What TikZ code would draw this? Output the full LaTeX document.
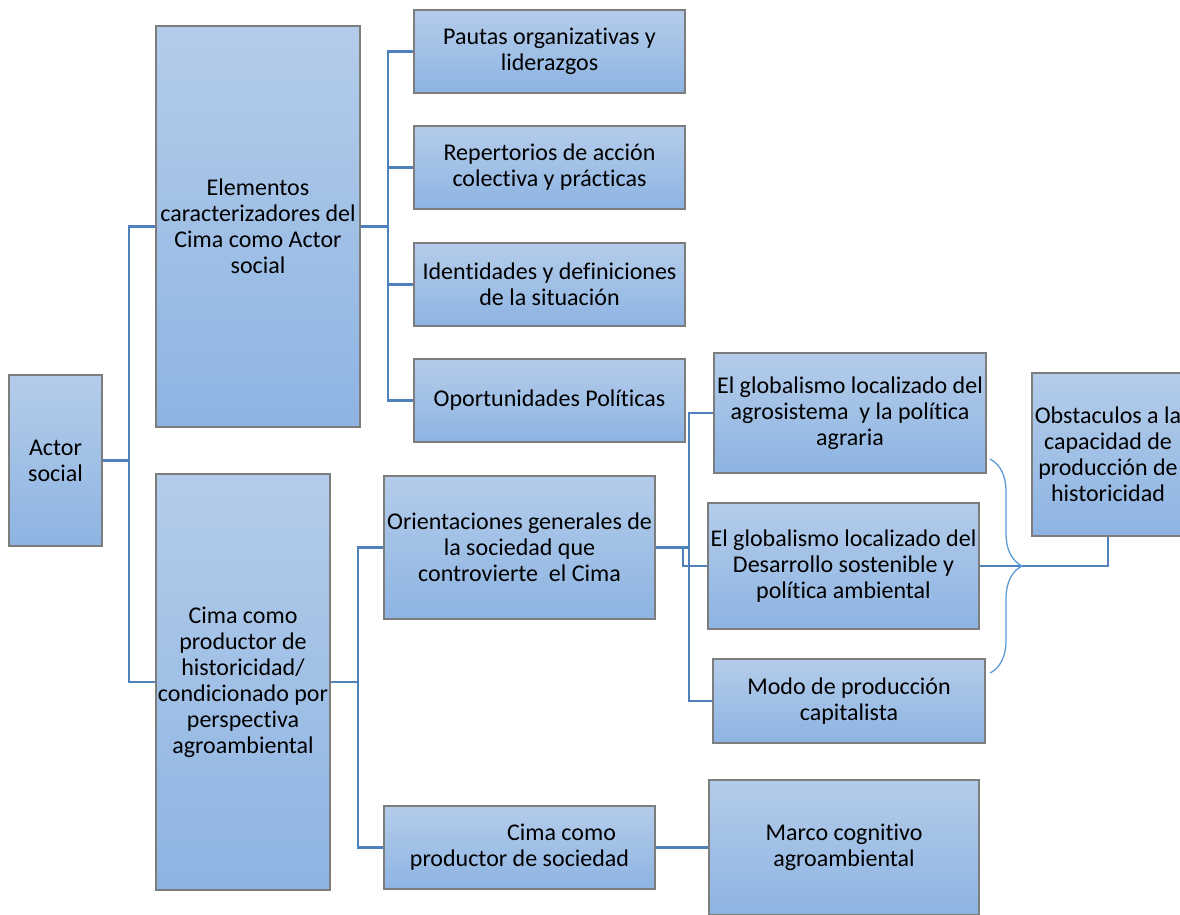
\documentclass[tikz,border=0pt]{standalone}
\usepackage{fontspec}
\setmainfont{Carlito}[Ligatures=NoCommon]
\usepackage{xcolor}
\usepackage{tikz}
\usetikzlibrary{decorations.pathreplacing}
\definecolor{boxtop}{RGB}{180,204,234}
\definecolor{boxbottom}{RGB}{141,180,226}
\definecolor{boxline}{RGB}{125,125,125}
\definecolor{linkblue}{RGB}{79,129,189}
\definecolor{braceblue}{RGB}{91,155,213}

\begin{document}
\begin{tikzpicture}[x=1pt,y=-1pt,
        box/.style={rectangle,draw=boxline,line width=1.5pt,top color=boxtop,bottom color=boxbottom,
            align=center,inner sep=1pt,font=\fontsize{24}{26}\selectfont},
        link/.style={draw=linkblue,line width=2.5pt}]
    \useasboundingbox (0,0) rectangle (1180,914);
    \clip (0,0) rectangle (1180,914);
    \node [box,minimum width=93pt,minimum height=171pt] (Actor) at (55.5,460.5) {Actor\\social};
    \node [box,minimum width=204pt,minimum height=401pt] (Elementos) at (258,226.5)
        {Elementos\\caracterizadores del\\Cima como Actor\\social};
    \node [box,minimum width=174pt,minimum height=416pt] (Productor) at (243,682)
        {Cima como\\productor de\\historicidad/\\condicionado por\\perspectiva\\agroambiental};
    \node [box,minimum width=271pt,minimum height=83pt] (Pautas) at (549.5,51.5) {Pautas organizativas y\\liderazgos};
    \node [box,minimum width=271pt,minimum height=83pt] (Repertorios) at (549.5,167.5) {Repertorios de acción\\colectiva y prácticas};
    \node [box,minimum width=271pt,minimum height=83pt] (Identidades) at (549.5,284.5) {Identidades y definiciones\\de la situación};
    \node [box,minimum width=271pt,minimum height=83pt] (Oportunidades) at (549.5,400.5) {Oportunidades Políticas};
    \node [box,minimum width=271pt,minimum height=143pt] (Orientaciones) at (519.5,547.5)
        {Orientaciones generales de\\la sociedad que\\controvierte\ \ el Cima};
    \node [box,minimum width=271pt,minimum height=83pt] (Sociedad) at (519.5,847.5)
        {\hspace*{84pt}Cima como\\productor de sociedad};
    \node [box,minimum width=272pt,minimum height=120pt] (Agrosistema) at (850,413)
        {El globalismo localizado del\\agrosistema\ \ y la política\\agraria};
    \node [box,minimum width=271pt,minimum height=126pt] (Desarrollo) at (843.5,566)
        {El globalismo localizado del\\Desarrollo sostenible y\\política ambiental};
    \node [box,minimum width=272pt,minimum height=84pt] (Modo) at (849,701) {Modo de producción\\capitalista};
    \node [box,minimum width=270pt,minimum height=135pt] (Marco) at (844,847.5) {Marco cognitivo\\agroambiental};
    \node [box,minimum width=152pt,minimum height=163pt] (Obstaculos) at (1108,454.5)
        {Obstaculos a la\\capacidad de\\producción de\\historicidad};
    \foreach \child in {Elementos,Productor}
        \draw [link] (Actor.east) -- ++(26,0) |- (\child.west);
    \foreach \child in {Pautas,Repertorios,Identidades,Oportunidades}
        \draw [link] (Elementos.east) -- ++(27,0) |- (\child.west);
    \foreach \child in {Orientaciones,Sociedad}
        \draw [link] (Productor.east) -- ++(27,0) |- (\child.west);
    \foreach \child in {Agrosistema,Modo}
        \draw [link] (Orientaciones.east) -- ++(33,0) |- (\child.west);
    \draw [link] (Orientaciones.east) -- ++(27,0) |- (Desarrollo.west);
    \draw [link] (Sociedad.east) -- (Marco.west);
    \draw [link] (Desarrollo.east) -| (Obstaculos.south);
    \coordinate (BraceTop) at (990,459);
    \coordinate (BraceBottom) at (990,673);
    \draw [braceblue,line width=1.3pt,decorate,decoration={brace,amplitude=32pt}] (BraceTop) -- (BraceBottom);
\end{tikzpicture}
\end{document}
